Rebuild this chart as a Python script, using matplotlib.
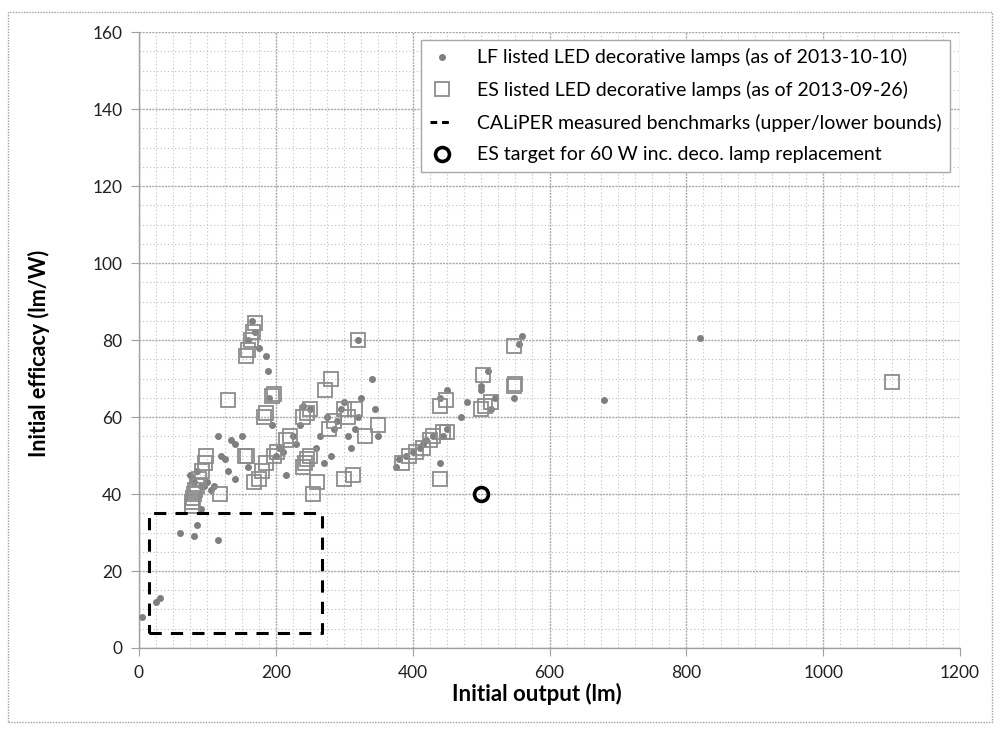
import matplotlib
matplotlib.use("Agg")
import matplotlib.pyplot as plt
from matplotlib.patches import Rectangle
from matplotlib.ticker import MultipleLocator

plt.rcParams['font.family'] = ['Lato', 'DejaVu Sans']

# LF listed LED decorative lamps (as of 2013-10-10)
lf_x = [5, 25, 30, 60, 80, 85, 90, 115,
        75, 78, 80, 85, 90, 95, 100, 105, 110, 115, 120, 125, 130, 135, 140, 140, 150, 160,
        160, 165, 170, 175, 185, 188, 190, 195,
        200, 205, 210, 215, 225, 230, 235, 240, 250, 258, 265, 270, 275, 280, 285, 290,
        295, 300, 305, 310, 315, 320, 325, 340, 345, 350, 320,
        375, 380, 390, 400, 410, 415, 420, 430, 440, 445, 450,
        440, 450, 470, 480, 500, 510, 520, 548, 555, 560, 500, 515, 680, 820]
lf_y = [8, 12, 13, 30, 29, 32, 36, 28,
        45, 44, 43, 46, 42, 42, 43, 41, 42, 55, 50, 49, 46, 54, 53, 44, 55, 47,
        80, 85, 82, 78, 76, 72, 65, 58,
        50, 52, 51, 45, 55, 53, 58, 63, 62, 52, 55, 48, 60, 50, 57, 59,
        62, 64, 55, 52, 57, 60, 65, 70, 62, 55, 80,
        47, 49, 50, 51, 52, 53, 54, 55, 48, 55, 57,
        65, 67, 60, 64, 67, 72, 65, 65, 79, 81, 68, 62, 64.5, 80.5]

# ES listed LED decorative lamps (as of 2013-09-26)
es_x = [157, 160, 163, 167, 170, 130, 195, 197, 183, 185, 155, 158, 118,
        78, 78, 79, 80, 82, 85, 88, 92, 96, 98,
        168, 175, 180, 185, 198, 202, 215, 220,
        240, 245, 250, 240, 242, 245, 250, 255, 260,
        272, 280, 278, 285, 300, 305, 315, 300, 313, 320, 330, 350,
        385, 395, 405, 415, 425, 430, 445, 450, 440, 440, 448,
        500, 505, 503, 515, 548, 550, 548, 1100]
es_y = [76, 77.5, 80, 82, 84.5, 64.5, 65.5, 66, 60, 61, 50, 50, 40,
        37, 38, 39, 40, 41, 42, 44, 46, 48, 50,
        43, 44, 46, 48, 50, 51, 54, 55,
        60, 61, 62, 47, 48, 49, 50, 40, 43,
        67, 70, 57, 59, 62, 60, 62, 44, 45, 80, 55, 58,
        48, 50, 51, 52, 54, 55, 56, 56, 44, 63, 64.5,
        62, 63, 71, 64, 68, 68.5, 78.5, 69]

# CALiPER measured benchmarks (upper/lower bounds)
cal_x = [15, 268]
cal_y = [4, 35]

# ES target
target_x = [500]
target_y = [40]

fig = plt.figure(figsize=(10, 7.33), dpi=100)
ax = fig.add_axes([0.139, 0.116, 0.821, 0.840])

ax.plot(lf_x, lf_y, linestyle='none', marker='o', markersize=4,
        color='#7f7f7f', markeredgecolor='#7f7f7f', zorder=3,
        label='LF listed LED decorative lamps (as of 2013-10-10)')
ax.plot(es_x, es_y, linestyle='none', marker='s', markersize=10,
        markerfacecolor='none', markeredgecolor='#8c8c8c', markeredgewidth=1.3, zorder=4,
        label='ES listed LED decorative lamps (as of 2013-09-26)')
rx = [cal_x[0], cal_x[1], cal_x[1], cal_x[0], cal_x[0]]
ry = [cal_y[0], cal_y[0], cal_y[1], cal_y[1], cal_y[0]]
ax.plot(rx, ry, color='black', linestyle=(0, (4, 3)), linewidth=2.2, zorder=5,
        label='CALiPER measured benchmarks (upper/lower bounds)')
ax.plot(target_x, target_y, linestyle='none', marker='o', markersize=10,
        markerfacecolor='none', markeredgecolor='black', markeredgewidth=2.6, zorder=6,
        label='ES target for 60 W inc. deco. lamp replacement')

ax.set_xlim(0, 1200)
ax.set_ylim(0, 160)
ax.xaxis.set_major_locator(MultipleLocator(200))
ax.xaxis.set_minor_locator(MultipleLocator(25))
ax.yaxis.set_major_locator(MultipleLocator(20))
ax.yaxis.set_minor_locator(MultipleLocator(5))
ax.grid(which='major', color='#a8a8a8', linestyle=(0, (1.5, 0.8)), linewidth=1.0)
ax.grid(which='minor', color='#c0c0c0', linestyle=(0, (1, 2.2)), linewidth=0.8)
ax.set_axisbelow(True)
for s in ['top', 'right']:
    ax.spines[s].set_visible(False)
for s in ['left', 'bottom']:
    ax.spines[s].set_color('#a0a0a0')
    ax.spines[s].set_linewidth(1.0)
ax.tick_params(which='major', length=6, color='#a0a0a0', labelsize=12.5, labelcolor='#222222', pad=6)
ax.tick_params(which='minor', length=0)

ax.set_xlabel('Initial output (lm)', fontsize=16, fontweight='bold')
ax.set_ylabel('Initial efficacy (lm/W)', fontsize=15.5, fontweight='bold')
ax.xaxis.set_label_coords(0.485, -0.057)
ax.yaxis.set_label_coords(-0.108, 0.479)

leg = ax.legend(loc='upper right', bbox_to_anchor=(0.988, 0.988), borderaxespad=0,
                fontsize=14, frameon=True, fancybox=False, edgecolor='#a8a8a8', framealpha=1,
                handlelength=1.2, handletextpad=1.2, labelspacing=0.75, borderpad=0.45)
leg.get_frame().set_linewidth(1.0)
leg.get_lines()[2].set_linestyle((0, (2.2, 1.6)))

fig.patches.append(Rectangle((0.008, 0.015), 0.984, 0.968, transform=fig.transFigure,
                             fill=False, edgecolor='#a0a0a0', linewidth=1.0,
                             linestyle=(0, (1, 1))))

fig.savefig('out.png', dpi=100)
